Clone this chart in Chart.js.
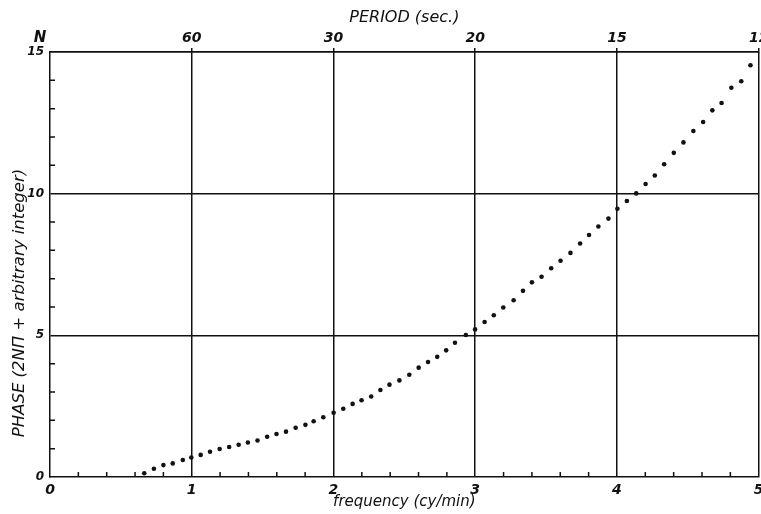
<!DOCTYPE html>
<html>
<head>
<meta charset="utf-8">
<script src="https://cdn.jsdelivr.net/npm/chart.js@4/dist/chart.umd.min.js"></script>
<style>
    body { margin: 0; background: #fff; }
    #wrap { width: 761px; height: 514px; }
</style>
</head>
<body>
<div id="wrap"><canvas id="phase-chart" width="761" height="514"></canvas></div>
<script>
// Fréquences mesurées (cy/min)
const frequency = [
    0.665, 0.733, 0.800, 0.866, 0.937, 0.997, 1.063, 1.129, 1.197, 1.264,
    1.331, 1.396, 1.464, 1.532, 1.598, 1.665, 1.733, 1.802, 1.860, 1.928,
    2.001, 2.069, 2.135, 2.198, 2.266, 2.331, 2.395, 2.465, 2.535, 2.601,
    2.667, 2.732, 2.795, 2.857, 2.934, 2.999, 3.066, 3.131, 3.198, 3.271,
    3.337, 3.400, 3.468, 3.536, 3.602, 3.672, 3.740, 3.803, 3.869, 3.940,
    4.003, 4.070, 4.136, 4.202, 4.267, 4.333, 4.401, 4.469, 4.539, 4.608,
    4.673, 4.738, 4.807, 4.877, 4.942
];

// Phase correspondante (2Nπ + entier arbitraire)
const phase = [
    0.13, 0.29, 0.42, 0.48, 0.60, 0.69, 0.78, 0.89, 0.99, 1.06,
    1.14, 1.22, 1.29, 1.42, 1.52, 1.60, 1.74, 1.84, 1.97, 2.11,
    2.27, 2.41, 2.58, 2.71, 2.84, 3.07, 3.26, 3.41, 3.61, 3.86,
    4.06, 4.24, 4.47, 4.74, 5.01, 5.21, 5.47, 5.71, 5.98, 6.24,
    6.57, 6.87, 7.07, 7.37, 7.63, 7.91, 8.24, 8.54, 8.84, 9.12,
    9.47, 9.74, 10.01, 10.34, 10.64, 11.04, 11.44, 11.81, 12.21, 12.53,
    12.94, 13.20, 13.74, 13.97, 14.53
];

// Libellés des axes
const xTicks = [0, 1, 2, 3, 4, 5];
const periodTicks = [1, 2, 3, 4, 5];
const yTicks = [0, 5, 10, 15];

const ink = "#111";
const handFont = "'DejaVu Sans', sans-serif";

// Construire les points du nuage
const points = frequency.map((f, i) => ({ x: f, y: phase[i] }));

// Plugin pour les petites graduations intérieures et les textes libres
const extras = {
    id: "extras",
    afterDatasetsDraw(chart) {
        const ctx = chart.ctx;
        const area = chart.chartArea;
        const xs = chart.scales.x;
        const ys = chart.scales.y;
        ctx.save();
        ctx.strokeStyle = ink;
        ctx.lineWidth = 1.5;
        ctx.beginPath();
        // graduations de l'axe des fréquences tous les 0,2
        for (let k = 1; k < 25; k++) {
            if (k % 5 === 0) continue;
            const px = xs.getPixelForValue(k / 5);
            ctx.moveTo(px, area.bottom);
            ctx.lineTo(px, area.bottom - 5);
        }
        // graduations de l'axe des phases tous les 1
        for (let k = 1; k < 15; k++) {
            if (k % 5 === 0) continue;
            const py = ys.getPixelForValue(k);
            ctx.moveTo(area.left, py);
            ctx.lineTo(area.left + 5, py);
        }
        ctx.stroke();

        // "N" en haut à gauche
        ctx.fillStyle = ink;
        ctx.font = "italic bold 15px " + handFont;
        ctx.textAlign = "center";
        ctx.textBaseline = "middle";
        ctx.fillText("N", 40, 38);

        // titre vertical de l'axe des phases
        ctx.translate(20, 303);
        ctx.rotate(-Math.PI / 2);
        ctx.font = "italic 16.5px " + handFont;
        ctx.fillText("PHASE (2NΠ + arbitrary integer)", 0, 0);
        ctx.restore();
    }
};

// Fixer les dimensions des axes pour caler la zone de tracé
function fixSize(size) {
    return function (scale) {
        if (scale.isHorizontal()) scale.height = size;
        else scale.width = size;
        scale.paddingLeft = 0;
        scale.paddingRight = 0;
        scale.paddingTop = 0;
        scale.paddingBottom = 0;
    };
}

const gridColor = (edge) => (c) => (c.tick && c.tick.value === edge ? "rgba(0,0,0,0)" : ink);

new Chart(document.getElementById("phase-chart"), {
    type: "scatter",
    data: {
        datasets: [{
            data: points,
            backgroundColor: ink,
            borderWidth: 0,
            pointRadius: 2.3,
            pointHoverRadius: 2.3
        }]
    },
    options: {
        responsive: false,
        devicePixelRatio: 1,
        animation: false,
        layout: { padding: { left: 0, right: 1, top: 0, bottom: 0 } },
        plugins: {
            legend: { display: false },
            tooltip: { enabled: false }
        },
        scales: {
            x: {
                type: "linear",
                position: "bottom",
                min: 0,
                max: 5,
                afterBuildTicks: (s) => { s.ticks = xTicks.map(v => ({ value: v })); },
                afterFit: fixSize(37),
                grid: { color: gridColor(0), lineWidth: 1.5, drawTicks: false },
                border: { display: true, color: ink, width: 1.5 },
                ticks: {
                    color: ink,
                    padding: 5,
                    maxRotation: 0,
                    autoSkip: false,
                    font: { family: handFont, style: "italic", weight: "bold", size: 14 }
                },
                title: {
                    display: true,
                    text: "frequency (cy/min)",
                    color: ink,
                    padding: { top: 0, bottom: 3 },
                    font: { family: handFont, style: "italic", size: 15 }
                }
            },
            x2: {
                type: "linear",
                position: "top",
                min: 0,
                max: 5,
                afterBuildTicks: (s) => { s.ticks = periodTicks.map(v => ({ value: v })); },
                afterFit: fixSize(52),
                grid: { drawOnChartArea: false, color: ink, lineWidth: 1.5, tickLength: 4 },
                border: { display: true, color: ink, width: 1.5 },
                ticks: {
                    color: ink,
                    padding: 1,
                    maxRotation: 0,
                    autoSkip: false,
                    font: { family: handFont, style: "italic", weight: "bold", size: 14 },
                    // période en secondes = 60 / fréquence
                    callback: (v) => String(Math.round(60 / v))
                },
                title: {
                    display: true,
                    text: "PERIOD (sec.)",
                    color: ink,
                    padding: { top: 8, bottom: 0 },
                    font: { family: handFont, style: "italic", size: 16 }
                }
            },
            y: {
                type: "linear",
                position: "left",
                min: 0,
                max: 15,
                afterBuildTicks: (s) => { s.ticks = yTicks.map(v => ({ value: v })); },
                afterFit: fixSize(50),
                grid: { color: gridColor(0), lineWidth: 1.5, drawTicks: false },
                border: { display: true, color: ink, width: 1.5 },
                ticks: {
                    color: ink,
                    padding: 6,
                    font: { family: handFont, style: "italic", weight: "bold", size: 12 }
                }
            }
        }
    },
    plugins: [extras]
});
</script>
</body>
</html>
